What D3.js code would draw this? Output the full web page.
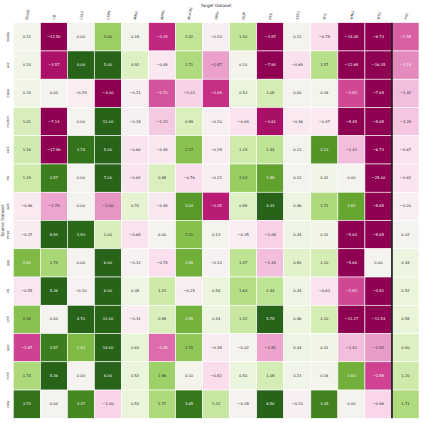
<!DOCTYPE html>
<html>
<head>
<meta charset="utf-8">
<script src="https://cdn.jsdelivr.net/npm/d3@7"></script>
<style>
  body { margin: 0; background: #fff; }
  text { font-family: "DejaVu Sans", sans-serif; }
</style>
</head>
<body>
<div id="chart"></div>
<script>
const targets = ["BoolQ", "CB", "CoLA", "COPA", "MNLI", "MRPC", "MultiRC", "QNLI",
  "QQP", "RTE", "SST2", "WiC", "WNLI", "WSC", "Avg"]
const sources = ["boolq", "wic", "copa", "multirc", "sst2", "rte", "wnli",
  "mrpc", "qqp", "cb", "qnli", "wsc", "mnli", "cola"]

// one row per source dataset, columns follow targets (last is Avg)
const values = [
  [0.21, -12.50, 0.00, 2.00, 0.18, -3.19, 1.42, -0.20, 1.40, -3.97, 0.11, -0.78, -14.08, -6.73, -2.58],
  [0.24, -3.57, 4.00, 5.00, 0.92, -0.49, 1.71, -1.87, 0.10, -7.94, -0.69, 1.57, -12.68, -16.35, -2.14],
  [0.24, 0.00, -0.29, -4.00, -0.21, -2.70, -1.03, -3.09, 0.53, 1.08, 0.00, 0.16, -2.82, -7.69, -1.42],
  [1.01, -7.14, 0.00, 11.00, -0.18, -1.23, 0.99, -0.20, -0.64, -3.61, -0.46, -0.47, -8.45, -8.65, -1.29],
  [1.16, -17.86, 3.74, 5.00, -0.60, -0.49, 2.27, -0.29, 1.19, 1.44, 0.11, 3.13, -1.41, -6.73, -0.67],
  [1.19, 3.57, 0.00, 7.00, -0.62, 0.98, -0.76, -0.22, 2.03, 2.89, 0.11, 0.31, 0.00, -25.00, -0.62],
  [-0.46, -1.79, 0.00, -2.00, 0.70, -0.49, 3.03, -3.35, 0.88, 4.33, 0.46, 1.72, 2.82, -8.65, -0.20],
  [-0.37, 8.93, 3.93, 1.00, -0.65, 0.00, 2.31, 0.13, -0.35, -1.08, 0.34, 0.31, -5.63, -8.65, 0.02],
  [2.42, 1.79, 0.00, 6.00, -0.12, -0.74, 2.65, -0.13, 1.47, -1.44, 0.80, 1.10, -5.66, 0.00, 0.44],
  [-0.55, 5.36, -0.10, 6.00, 0.38, 1.23, -0.25, 0.54, 1.63, 1.44, 0.34, -0.63, -2.82, -4.81, 0.52],
  [2.26, 0.00, 4.70, 11.00, -0.31, 0.98, 2.59, 0.44, 1.32, 5.78, 0.46, 1.10, -11.27, -11.54, 0.58],
  [-2.87, 3.57, 2.43, 14.00, 0.63, -2.45, 2.15, -0.38, -0.02, -1.81, 0.34, 0.31, -1.41, -1.92, 0.90],
  [1.74, 5.36, 0.00, 6.00, 0.53, 1.96, 0.10, -0.82, 0.50, 1.08, 0.23, 0.16, 2.62, -2.88, 1.20],
  [3.73, 0.00, 3.37, -1.00, 0.53, 1.72, 3.65, 1.32, -0.08, 6.50, -0.23, 3.45, 0.00, -0.96, 1.71],
]

const width = 423, height = 423
const margin = {top: 22.7, right: 4, bottom: 4.7, left: 13.3}

const cells = []
values.forEach((row, i) => row.forEach((v, j) => {
  cells.push({source: sources[i], target: targets[j], value: v})
}))

const x = d3.scaleBand()
  .domain(targets)
  .range([margin.left, width - margin.right])

const y = d3.scaleBand()
  .domain(sources)
  .range([margin.top, height - margin.bottom])

// diverging PiYG, clipped at +-4
const color = d3.scaleDiverging(d3.interpolatePiYG).domain([-4, 0, 4]).clamp(true)

const textColor = v => {
  const c = d3.rgb(color(v))
  const lum = [c.r, c.g, c.b].map(u => {
    u /= 255
    return u <= 0.03928 ? u / 12.92 : Math.pow((u + 0.055) / 1.055, 2.4)
  })
  const l = 0.2126 * lum[0] + 0.7152 * lum[1] + 0.0722 * lum[2]
  return l > 0.408 ? "#262626" : "#ffffff"
}

const svg = d3.select("#chart").append("svg")
  .attr("width", width)
  .attr("height", height)

const g = svg.append("g")

g.selectAll("rect")
  .data(cells)
  .join("rect")
    .attr("x", d => x(d.target))
    .attr("y", d => y(d.source))
    .attr("width", x.bandwidth())
    .attr("height", y.bandwidth())
    .attr("fill", d => color(d.value))
    .attr("stroke", "#ffffff")
    .attr("stroke-width", 0.6)

g.selectAll("text.val")
  .data(cells)
  .join("text")
    .attr("class", "val")
    .attr("x", d => x(d.target) + x.bandwidth() / 2)
    .attr("y", d => y(d.source) + y.bandwidth() / 2)
    .attr("text-anchor", "middle")
    .attr("dominant-baseline", "central")
    .attr("font-size", 3.7)
    .attr("fill", d => textColor(d.value))
    .text(d => d3.format(".2f")(d.value))

// separator before the Avg column
svg.append("line")
  .attr("x1", x("Avg"))
  .attr("x2", x("Avg"))
  .attr("y1", margin.top)
  .attr("y2", height - margin.bottom)
  .attr("stroke", "#000")
  .attr("stroke-width", 1.5)

svg.append("g")
  .selectAll("text")
  .data(targets)
  .join("text")
    .attr("transform", d => `translate(${x(d) + x.bandwidth() / 2 + 1},${margin.top - 3}) rotate(-80)`)
    .attr("font-size", 3.4)
    .attr("fill", "#262626")
    .text(d => d)

svg.append("g")
  .selectAll("text")
  .data(sources)
  .join("text")
    .attr("transform", d => `translate(${margin.left - 4},${y(d) + y.bandwidth() / 2}) rotate(-90)`)
    .attr("text-anchor", "middle")
    .attr("font-size", 3.4)
    .attr("fill", "#262626")
    .text(d => d)

svg.append("text")
  .attr("x", (margin.left + width - margin.right) / 2)
  .attr("y", 6.5)
  .attr("text-anchor", "middle")
  .attr("font-size", 4.2)
  .attr("fill", "#262626")
  .text("Target Dataset")

svg.append("text")
  .attr("transform", `translate(4,${(margin.top + height - margin.bottom) / 2}) rotate(-90)`)
  .attr("text-anchor", "middle")
  .attr("font-size", 4.2)
  .attr("fill", "#262626")
  .text("Source Dataset")
</script>
</body>
</html>
